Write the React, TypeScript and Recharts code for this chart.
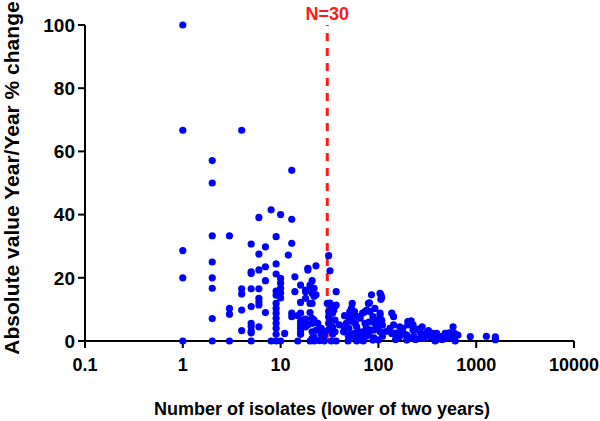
import React from 'react';
import { ScatterChart, Scatter, XAxis, YAxis, ReferenceLine, Label } from 'recharts';

// number of isolates (lower of two years), one entry per x position
const isolateCounts = [
  1, 2, 3, 4, 5, 6, 7, 8, 9, 10,
  11, 12, 13, 14, 15, 16, 17, 18, 19, 20,
  21, 22, 23, 24, 25, 26, 27, 28, 30, 31,
  32, 33, 34, 35, 36, 37, 40, 44, 45, 47,
  49, 50, 51, 52, 53, 54, 55, 57, 58, 60,
  62, 63, 65, 67, 69, 70, 73, 75, 76, 79,
  80, 81, 82, 85, 88, 90, 92, 95, 98, 100,
  104, 106, 108, 110, 120, 131, 137, 143, 150, 165,
  170, 178, 185, 195, 200, 210, 216, 226, 230, 240,
  250, 265, 270, 280, 290, 300, 310, 325, 340, 360,
  380, 395, 430, 450, 480, 520, 530, 560, 580, 600,
  610, 650, 870, 1270, 1570,
];

// absolute year/year % change for each isolate count above
const pctChanges = [
  [100, 66.7, 28.6, 20, 0], // 1
  [57.1, 50, 33.3, 25, 20, 16.7, 7.1, 0], // 2
  [33.3, 10.3, 8.5, 0], // 3
  [66.7, 16.5, 14.9, 9.8, 3.3], // 4
  [30.7, 21.9, 21.4, 16.5, 10.9, 5.6, 4.6, 3.2, 2.6, 0], // 5
  [39.1, 27.5, 22.5, 16.5, 13.5, 12.4, 11.4, 4.5], // 6
  [29.8, 23.5, 19.1, 9.0], // 7
  [41.5, 0], // 8
  [33, 24.4, 21.2, 15.8, 14.5, 11.9, 10.3, 8.8, 7.2, 5.6, 4.0, 2.1, 0], // 9
  [40, 19.8, 18.3, 16.7, 15.2, 13.6, 0], // 10
  [2.4], // 11
  [27.2], // 12
  [54, 38.5, 30.9, 8.8, 7.7], // 13
  [20.3, 15.6], // 14
  [8.0, 0], // 15
  [17.7, 12.2, 8.8, 6.1, 5.1, 4.0, 2.9, 2.1], // 16
  [6.6], // 17
  [16.1, 15.6, 13.5, 6.9, 4.5], // 18
  [23, 22.5, 5.1], // 19
  [17.7, 11.9, 9.0, 0], // 20
  [19.1, 16.7, 15.1, 11.9, 7.2, 5.6, 2.9, 0.8], // 21
  [16.7, 14.2, 6.6, 1.2, 0], // 22
  [23.8, 14.6, 3.4], // 23
  [5.6], // 24
  [0.1], // 25
  [4.0, 2.1], // 26
  [3.2], // 27
  [1.9, 0], // 28
  [11.9], // 30
  [27.0, 9.3, 7.7, 5.6, 3.5], // 31
  [22.2, 12.0, 6.6], // 32
  [10.9, 0], // 33
  [8.8, 4.5, 2.1], // 34
  [10.9, 9.8], // 35
  [11.1, 6.6, 2.9], // 36
  [15.6, 11.4, 0], // 37
  [5.1], // 40
  [2.9], // 44
  [8.0, 3.8], // 45
  [5.6], // 47
  [1.9, 0], // 49
  [6.5, 4.0, 1.0], // 50
  [9.3], // 51
  [7.5, 2.0], // 52
  [10.3], // 53
  [11.9], // 54
  [8.2, 6.1], // 55
  [9.3, 2.4], // 57
  [5.5, 1.2], // 58
  [4.5, 0], // 60
  [7.7], // 62
  [3.0], // 63
  [7.2], // 65
  [1.9, 0.3], // 67
  [8.8], // 69
  [2.9, 0], // 70
  [9.3, 5.6], // 73
  [4.0, 1.5], // 75
  [9.8], // 76
  [11.9], // 79
  [6.0, 2.0], // 80
  [12.1], // 81
  [9.3, 3.5], // 82
  [14.6], // 85
  [7.7, 0.3], // 88
  [3.5, 1.0], // 90
  [10.3, 5.6], // 92
  [6.5], // 95
  [4.5], // 98
  [0.3], // 100
  [15.1, 8.8, 8.2, 2.9], // 104
  [14.6, 13.2], // 106
  [13.8, 6.6], // 108
  [5.0, 1.5], // 110
  [3.0], // 120
  [4.0], // 131
  [8.8, 2.4], // 137
  [7.7, 5.1], // 143
  [2.5, 0.5], // 150
  [4.5, 1.4], // 165
  [3.0], // 170
  [4.0], // 178
  [2.2], // 185
  [1.9, 0.3], // 195
  [6.1, 5.1], // 200
  [1.0], // 210
  [6.4], // 216
  [5.1, 3.5], // 226
  [1.5], // 230
  [0.5], // 240
  [3.8], // 250
  [2.9], // 265
  [1.0], // 270
  [4.5], // 280
  [0.8], // 290
  [1.9], // 300
  [2.6], // 310
  [3.3], // 325
  [1.2], // 340
  [2.4], // 360
  [0], // 380
  [2.4, 0.5], // 395
  [1.4], // 430
  [0.5], // 450
  [2.4, 0.9], // 480
  [1.5], // 520
  [2.6], // 530
  [1.0], // 560
  [4.5], // 580
  [2.4], // 600
  [0], // 610
  [1.9], // 650
  [1.4], // 870
  [1.5], // 1270
  [1.3, 0.4], // 1570
];

const xTicks = [0.1, 1, 10, 100, 1000, 10000];
const yTicks = [0, 20, 40, 60, 80, 100];
const cutoff = 30;

const points = isolateCounts.flatMap((n, i) =>
  (pctChanges[i] ?? []).map((pct) => ({ n, pct }))
);

const font = '"Liberation Sans", Arial, sans-serif';

export default function App() {
  return (
    <div style={{ position: 'absolute', left: 0, top: 0, width: 600, height: 421, background: '#fff', fontFamily: font }}>
      <ScatterChart width={600} height={421} margin={{ top: 25, right: 26, bottom: 35, left: 25 }}>
        <XAxis
          type="number"
          dataKey="n"
          scale="log"
          domain={[0.1, 10000]}
          ticks={xTicks}
          interval={0}
          allowDataOverflow
          height={45}
          tickSize={7}
          tickMargin={10}
          axisLine={{ stroke: '#000', strokeWidth: 2 }}
          tickLine={{ stroke: '#000', strokeWidth: 2 }}
          tick={{ fill: '#000', fontSize: 18, fontWeight: 700, fontFamily: font }}
          tickFormatter={(v) => String(v)}
        >
          <Label
            content={() => (
              <text x={322} y={415} textAnchor="middle" fontSize={18} fontWeight={700} fontFamily={font} fill="#000">
                Number of isolates (lower of two years)
              </text>
            )}
          />
        </XAxis>
        <YAxis
          type="number"
          dataKey="pct"
          domain={[0, 100]}
          ticks={yTicks}
          interval={0}
          width={60}
          tickSize={7}
          tickMargin={3}
          axisLine={{ stroke: '#000', strokeWidth: 2 }}
          tickLine={{ stroke: '#000', strokeWidth: 2 }}
          tick={{ fill: '#000', fontSize: 19, fontWeight: 700, fontFamily: font }}
        >
          <Label
            content={() => (
              <text
                x={19}
                y={178}
                transform="rotate(-90 19 178)"
                textAnchor="middle"
                fontSize={21}
                fontWeight={700}
                fontFamily={font}
                fill="#000"
              >
                Absolute value Year/Year % change
              </text>
            )}
          />
        </YAxis>
        <ReferenceLine
          x={cutoff}
          stroke="#ff1a1a"
          strokeWidth={3}
          strokeDasharray="8 7"
          label={{ value: 'N=30', position: 'top', fill: '#ff1a1a', fontSize: 18, fontWeight: 700, fontFamily: font }}
        />
        <Scatter
          data={points}
          fill="#0000ff"
          isAnimationActive={false}
          shape={(p: any) => <circle cx={p.cx} cy={p.cy} r={3.6} fill="#0000ff" />}
        />
      </ScatterChart>
    </div>
  );
}
